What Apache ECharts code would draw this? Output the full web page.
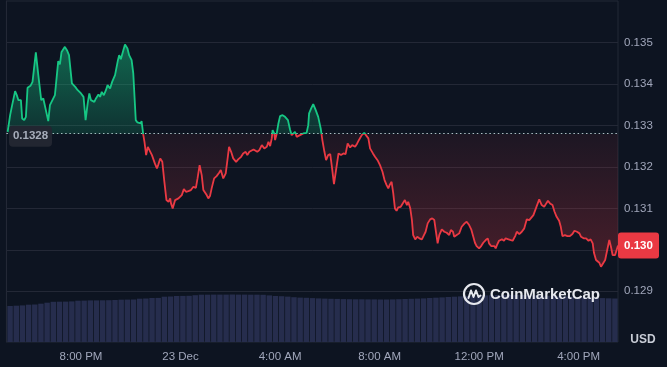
<!DOCTYPE html>
<html>
<head>
<meta charset="utf-8">
<script src="https://cdn.jsdelivr.net/npm/echarts@6/dist/echarts.min.js"></script>
<style>
html,body{margin:0;padding:0;background:#0d1421;}
#c{width:667px;height:367px;}
</style>
</head>
<body>
<div id="c"></div>
<script>
// time in minutes after 17:00 (22 Dec)
const minutes = [
3,9,13,17,21,25,29,35,38,43,
47,51,58,63,71,77,84,89,93,101,
105,111,117,125,129,133,137,141,146,151,
158,166,172,180,186,191,196,200,204,208,
212,216,222,226,230,235,240,244,250,255,
262,269,272,276,282,286,292,296,302,306,
312,316,320,324,326,330,333,337,341,345,
351,358,363,366,371,376,381,386,391,395,
397,401,407,411,415,419,423,428,433,439,
445,451,457,461,466,471,475,479,483,487,
491,495,501,507,513,517,523,529,534,537,
542,547,554,559,566,571,577,581,586,590,
596,600,605,610,616,622,628,632,636,640,
642,646,648,652,656,660,666,672,679,684,
688,692,696,700,704,708,716,724,728,730,
735,740,746,752,758,762,767,771,776,781,
785,790,795,801,807,813,818,823,829,834,
841,846,851,857,863,867,873,877,884,889,
896,901,907,912,917,921,925,929,933,937,
941,945,951,955,961,966,969,974,978,981,
986,991,996,1002,1007,1011,1016,1022,1027,1032,
1036,1040,1044,1050,1056,1062,1068,1072,1077,1080,
1086,1092,1098,1105,1110,1116,1121,1126,1130,1134,
1140,1145,1150,1156,1161,1164,1169,1173,1177,1180,
1183,1188,1195,1200,1204,1211,1215,1221,1227,1231,
1237,1243,1249,1255,1261,1265,1271,1275,1279,1285,
1291,1297,1302,1306,1311,1317,1322,1327,1333,1337,
1341,1347,1353,1359,1365,1370,1376,1382,1386,1392,
1398,1404,1409,1414,1417,1422,1425,1430,1434,1438,
1444,1449,1454,1458,1462,1468,1472,1475
];
const prices = [
0.132846,0.133248,0.133448,0.133424,0.133826,0.133730,0.133609,0.133609,0.133168,0.133128,
0.133207,0.133906,0.133954,0.134050,0.134759,0.134212,0.133609,0.133650,0.133609,0.133103,
0.133489,0.133609,0.133730,0.134549,0.134470,0.134773,0.134814,0.134894,0.134814,0.134694,
0.134012,0.133930,0.133850,0.133771,0.133689,0.133128,0.133530,0.133771,0.133609,0.133650,
0.133568,0.133650,0.133747,0.133689,0.133809,0.133730,0.133850,0.133971,0.133891,0.134050,
0.134212,0.134573,0.134694,0.134597,0.134814,0.134952,0.134855,0.134694,0.134573,0.134253,
0.133128,0.133072,0.133103,0.133048,0.133103,0.132783,0.132605,0.132284,0.132484,0.132446,
0.132284,0.132084,0.131964,0.132043,0.132205,0.132123,0.131641,0.131200,0.131159,0.131241,
0.131120,0.131000,0.131200,0.131159,0.131241,0.131224,0.131320,0.131465,0.131400,0.131417,
0.131441,0.131520,0.131496,0.131723,0.132043,0.131802,0.131441,0.131400,0.131320,0.131241,
0.131296,0.131482,0.131723,0.131778,0.131858,0.131923,0.131723,0.131843,0.132243,0.132484,
0.132364,0.132205,0.132123,0.132181,0.132243,0.132325,0.132364,0.132284,0.132364,0.132325,
0.132421,0.132446,0.132364,0.132405,0.132525,0.132446,0.132484,0.132605,0.132501,0.132687,
0.132887,0.132807,0.132646,0.132807,0.133048,0.133224,0.133248,0.133207,0.133128,0.132903,
0.132766,0.132725,0.132846,0.132725,0.132687,0.132766,0.132807,0.132821,0.133007,0.133289,
0.133409,0.133513,0.133368,0.133207,0.132927,0.132646,0.132364,0.132164,0.132284,0.132308,
0.132002,0.131585,0.131923,0.132325,0.132284,0.132325,0.132308,0.132566,0.132470,0.132525,
0.132484,0.132566,0.132662,0.132766,0.132821,0.132807,0.132687,0.132446,0.132325,0.132243,
0.132147,0.132043,0.131882,0.131682,0.131561,0.131482,0.131578,0.131641,0.131361,0.131000,
0.130942,0.131024,0.131038,0.131079,0.131200,0.131079,0.131159,0.131000,0.130718,0.130356,
0.130253,0.130315,0.130277,0.130253,0.130356,0.130436,0.130638,0.130735,0.130759,0.130718,
0.130436,0.130156,0.130356,0.130494,0.130436,0.130412,0.130356,0.130477,0.130436,0.130315,
0.130356,0.130397,0.130556,0.130638,0.130677,0.130597,0.130494,0.130315,0.130171,0.130091,
0.130036,0.130091,0.130171,0.130236,0.130277,0.130156,0.130091,0.130075,0.130091,0.130036,
0.130115,0.130219,0.130253,0.130219,0.130277,0.130253,0.130236,0.130219,0.130332,0.130436,
0.130381,0.130436,0.130518,0.130735,0.130718,0.130759,0.130838,0.130879,0.131055,0.131217,
0.131079,0.131038,0.131120,0.131183,0.131120,0.131079,0.130918,0.130797,0.130701,0.130556,
0.130332,0.130356,0.130332,0.130332,0.130381,0.130460,0.130436,0.130397,0.130315,0.130277,
0.130277,0.130219,0.130253,0.130156,0.129930,0.129754,0.129795,0.129689,0.129593,0.129634,
0.129754,0.129995,0.130236,0.130075,0.129875,0.129875,0.129875,0.130103
];
// volume bars, one per 15 minutes (relative units)
const volumes = [
36.0,36.3,36.6,37.3,37.5,38.3,39.3,40.2,40.3,40.4,
40.6,41.3,41.4,41.6,41.6,41.7,41.8,42.0,42.3,42.4,
42.5,43.3,43.5,44.0,44.1,45.3,45.5,46.0,46.1,46.2,
46.8,47.3,47.3,47.4,47.4,47.4,47.5,47.4,47.4,47.3,
47.3,47.2,46.6,46.0,45.8,45.4,44.8,44.4,44.2,43.9,
43.6,43.4,43.2,43.1,42.9,42.8,42.7,42.7,42.6,42.6,
42.5,42.5,42.6,42.8,43.0,43.2,43.4,43.6,44.0,44.3,
44.6,45.0,45.3,45.6,45.9,46.1,46.4,46.6,46.8,47.0,
47.0,47.1,47.1,47.0,46.9,46.7,46.5,46.3,46.1,45.9,
45.6,45.3,45.0,44.7,44.4,44.1,43.9,43.7,43.5
];
const volCategories = volumes.map((v,i)=>String(i));
const baselinePrice = 0.1328;
const yTicks = [0.129,0.130,0.131,0.132,0.133,0.134,0.135];
const xTickMinutes = [180,420,660,900,1140,1380];
const xTickLabels = ['8:00 PM','23 Dec','4:00 AM','8:00 AM','12:00 PM','4:00 PM'];
const currency = 'USD';
const brand = 'CoinMarketCap';

const GREEN = '#16c784', RED = '#ea3943';
const GRIDC = '#232836';
const LABELC = '#a1a7bb';
const FONT = '"Liberation Sans", Arial, sans-serif';
const yMin = 0.127778, yMax = 0.136;
const xMin = 0, xMax = 1475;

const chart = echarts.init(document.getElementById('c'), null, {renderer:'canvas'});
const priceData = minutes.map((m,i)=>[m, prices[i]]);

const gridLines = yTicks.map(v=>({yAxis:v, lineStyle:{color:GRIDC, width:1, type:'solid'}}));
gridLines.push({yAxis: baselinePrice, lineStyle:{color:'#b9bec9', width:1, type:[1.5,2.7]}});

const option = {
  backgroundColor:'#0d1421',
  animation:false,
  grid:[
    {left:6.4, right:49, top:1, bottom:25, show:true, borderColor:GRIDC, borderWidth:1, backgroundColor:'transparent'},
    {left:7, right:49, bottom:25, height:50}
  ],
  xAxis:[
    {type:'value', gridIndex:0, min:xMin, max:xMax, interval:60,
     axisLine:{show:false}, axisTick:{show:false}, splitLine:{show:false},
     axisLabel:{color:LABELC, fontSize:11.5, fontFamily:FONT, margin:9,
       formatter:(v)=>{const k = xTickMinutes.indexOf(Math.round(v)); return k>=0 ? xTickLabels[k] : '';}}},
    {type:'category', gridIndex:1, data:volCategories, boundaryGap:true, show:false}
  ],
  yAxis:[
    {type:'value', gridIndex:0, position:'right', min:yMin, max:yMax, splitNumber:8,
     axisLine:{show:true, lineStyle:{color:GRIDC}}, axisTick:{show:false}, splitLine:{show:false},
     axisLabel:{customValues:yTicks, color:LABELC, fontSize:11.5, fontFamily:FONT, margin:6,
       formatter:(v)=> yTicks.some(t=>Math.abs(t-v)<1e-7) ? v.toFixed(3) : ''}},
    {type:'value', gridIndex:1, min:0, max:50, show:false}
  ],
  series:[
    {type:'bar', xAxisIndex:1, yAxisIndex:1, data:volumes, barCategoryGap:'12%',
     itemStyle:{color:'#262d4d'}, silent:true, z:1},
    {type:'line', xAxisIndex:0, yAxisIndex:0, data:priceData, showSymbol:false, symbol:'none',
     lineStyle:{width:1.8, color:GREEN}, areaStyle:{origin:baselinePrice, opacity:1, color:'rgba(0,0,0,0)'},
     markLine:{silent:true, z:1, precision:6, symbol:['none','none'], label:{show:false}, animation:false, data:gridLines},
     z:3}
  ]
};
chart.setOption(option);

const py = v => chart.convertToPixel({yAxisIndex:0}, v);
const gTop = py(yMax), gBot = py(yMin), by = py(baselinePrice);
const t = (by - gTop)/(gBot - gTop);
const lineGrad = new echarts.graphic.LinearGradient(0, gTop, 0, gBot, [
  {offset:0, color:GREEN},{offset:t, color:GREEN},{offset:t, color:RED},{offset:1, color:RED}], true);
const areaGrad = new echarts.graphic.LinearGradient(0, gTop, 0, gBot, [
  {offset:0, color:'rgba(22,199,132,0.60)'},{offset:t, color:'rgba(22,199,132,0.17)'},
  {offset:t, color:'rgba(234,57,67,0.07)'},{offset:1, color:'rgba(234,57,67,0.38)'}], true);

const last = prices[prices.length-1];
const ly = py(last);
const textMute = '#c8ccd6';
chart.setOption({
  series:[{}, {lineStyle:{color:lineGrad}, areaStyle:{color:areaGrad}}],
  graphic:[
    {type:'rect', shape:{x:9, y:by-8, width:43, height:21, r:4}, style:{fill:'#222631'}, z:20},
    {type:'text', style:{x:30.5, y:by+2.5, text:String(baselinePrice), fill:'#a7adbb', font:'bold 11.5px '+FONT, textAlign:'center', textVerticalAlign:'middle'}, z:21},
    {type:'rect', shape:{x:618, y:ly-13, width:41, height:26, r:3}, style:{fill:RED}, z:20},
    {type:'text', style:{x:638.5, y:ly, text:last.toFixed(3), fill:'#ffffff', font:'bold 11.5px '+FONT, textAlign:'center', textVerticalAlign:'middle'}, z:21},
    {type:'text', style:{x:643, y:340, text:currency, fill:textMute, font:'bold 12px '+FONT, textAlign:'center', textVerticalAlign:'middle'}, z:21},
    {type:'circle', shape:{cx:474, cy:294, r:10}, style:{fill:'none', stroke:'#e6e8ee', lineWidth:2.2}, z:20},
    {type:'polyline', shape:{points:[[468.5,298],[471,290.5],[473.5,297],[476,290.5],[478.5,297],[480.5,295.5]]}, style:{fill:'none', stroke:'#e6e8ee', lineWidth:2, lineJoin:'round', lineCap:'round'}, z:20},
    {type:'text', style:{x:490, y:295, text:brand, fill:'#e6e8ee', font:'bold 15px '+FONT, textAlign:'left', textVerticalAlign:'middle'}, z:20}
  ]
});
</script>
</body>
</html>
